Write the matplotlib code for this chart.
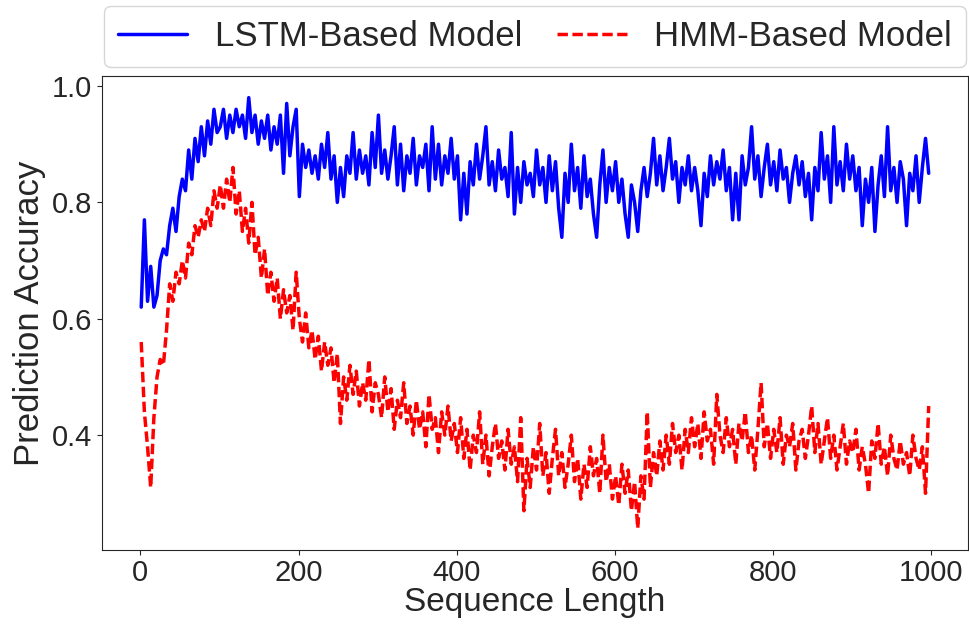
import numpy as np
import matplotlib
matplotlib.use("Agg")
import matplotlib.pyplot as plt
import seaborn as sns

seq_len = np.arange(1, 1000, 4)

lstm_acc = [
    0.62, 0.77, 0.63, 0.69, 0.62, 0.64, 0.70, 0.72, 0.71, 0.76, 0.79, 0.75, 0.81, 0.84, 0.82, 0.89, 0.84, 0.91, 0.87, 0.93, 0.88, 0.94, 0.90, 0.96, 0.92,
    0.93, 0.96, 0.91, 0.95, 0.92, 0.96, 0.93, 0.95, 0.91, 0.98, 0.92, 0.95, 0.90, 0.94, 0.91, 0.95, 0.89, 0.93, 0.90, 0.95, 0.85, 0.97, 0.88, 0.93, 0.96,
    0.81, 0.90, 0.86, 0.89, 0.85, 0.88, 0.84, 0.90, 0.86, 0.92, 0.84, 0.88, 0.80, 0.86, 0.81, 0.88, 0.85, 0.92, 0.84, 0.89, 0.85, 0.88, 0.83, 0.92, 0.86,
    0.95, 0.85, 0.89, 0.84, 0.88, 0.93, 0.83, 0.90, 0.82, 0.88, 0.85, 0.91, 0.83, 0.88, 0.86, 0.90, 0.82, 0.93, 0.84, 0.90, 0.83, 0.88, 0.85, 0.91, 0.84,
    0.88, 0.77, 0.85, 0.78, 0.87, 0.83, 0.90, 0.84, 0.88, 0.93, 0.83, 0.87, 0.82, 0.89, 0.84, 0.86, 0.81, 0.92, 0.78, 0.86, 0.80, 0.87, 0.83, 0.85, 0.81,
    0.89, 0.83, 0.86, 0.80, 0.88, 0.82, 0.87, 0.79, 0.74, 0.85, 0.80, 0.90, 0.82, 0.86, 0.79, 0.88, 0.81, 0.84, 0.78, 0.74, 0.83, 0.89, 0.80, 0.86, 0.82,
    0.87, 0.80, 0.84, 0.78, 0.74, 0.83, 0.80, 0.75, 0.82, 0.86, 0.81, 0.85, 0.91, 0.83, 0.88, 0.82, 0.86, 0.91, 0.84, 0.87, 0.80, 0.86, 0.83, 0.88, 0.82,
    0.86, 0.82, 0.76, 0.85, 0.81, 0.88, 0.83, 0.87, 0.84, 0.89, 0.82, 0.86, 0.77, 0.85, 0.77, 0.88, 0.83, 0.86, 0.93, 0.84, 0.88, 0.81, 0.86, 0.90, 0.83,
    0.87, 0.82, 0.89, 0.84, 0.86, 0.80, 0.85, 0.88, 0.83, 0.87, 0.81, 0.85, 0.77, 0.86, 0.82, 0.92, 0.84, 0.88, 0.80, 0.93, 0.83, 0.87, 0.82, 0.90, 0.84,
    0.88, 0.82, 0.86, 0.76, 0.84, 0.80, 0.86, 0.75, 0.83, 0.88, 0.81, 0.93, 0.82, 0.86, 0.80, 0.87, 0.84, 0.76, 0.85, 0.82, 0.88, 0.80, 0.86, 0.91, 0.85,
]

hmm_acc = [
    0.56, 0.44, 0.38, 0.31, 0.43, 0.50, 0.53, 0.52, 0.58, 0.66, 0.63, 0.68, 0.66, 0.70, 0.67, 0.73, 0.71, 0.76, 0.74, 0.77, 0.75, 0.79, 0.76, 0.82, 0.79,
    0.83, 0.79, 0.84, 0.80, 0.86, 0.78, 0.82, 0.75, 0.79, 0.73, 0.80, 0.71, 0.74, 0.67, 0.72, 0.64, 0.68, 0.63, 0.67, 0.60, 0.65, 0.61, 0.64, 0.58, 0.68,
    0.60, 0.56, 0.61, 0.55, 0.58, 0.53, 0.57, 0.51, 0.56, 0.52, 0.55, 0.49, 0.54, 0.42, 0.50, 0.46, 0.52, 0.47, 0.51, 0.45, 0.49, 0.46, 0.53, 0.44, 0.49,
    0.47, 0.43, 0.50, 0.44, 0.48, 0.41, 0.46, 0.43, 0.49, 0.42, 0.45, 0.40, 0.46, 0.41, 0.44, 0.38, 0.47, 0.41, 0.43, 0.37, 0.44, 0.40, 0.45, 0.39, 0.42,
    0.37, 0.43, 0.36, 0.41, 0.34, 0.40, 0.37, 0.44, 0.35, 0.40, 0.33, 0.38, 0.42, 0.36, 0.39, 0.34, 0.41, 0.35, 0.38, 0.32, 0.43, 0.27, 0.36, 0.31, 0.38,
    0.34, 0.42, 0.33, 0.37, 0.30, 0.36, 0.41, 0.33, 0.37, 0.31, 0.35, 0.40, 0.32, 0.36, 0.29, 0.35, 0.31, 0.38, 0.33, 0.36, 0.30, 0.40, 0.32, 0.35, 0.29,
    0.33, 0.28, 0.35, 0.30, 0.34, 0.27, 0.32, 0.24, 0.33, 0.29, 0.44, 0.31, 0.37, 0.33, 0.39, 0.34, 0.40, 0.35, 0.42, 0.37, 0.40, 0.34, 0.41, 0.37, 0.43,
    0.38, 0.42, 0.36, 0.44, 0.39, 0.41, 0.35, 0.47, 0.40, 0.37, 0.43, 0.38, 0.41, 0.35, 0.42, 0.39, 0.44, 0.37, 0.40, 0.34, 0.41, 0.49, 0.38, 0.42, 0.36,
    0.41, 0.37, 0.43, 0.35, 0.40, 0.38, 0.42, 0.34, 0.39, 0.41, 0.36, 0.40, 0.45, 0.37, 0.42, 0.35, 0.39, 0.43, 0.36, 0.40, 0.34, 0.38, 0.42, 0.35, 0.39,
    0.37, 0.41, 0.34, 0.38, 0.35, 0.30, 0.39, 0.36, 0.42, 0.35, 0.38, 0.33, 0.40, 0.36, 0.34, 0.39, 0.35, 0.37, 0.33, 0.40, 0.36, 0.34, 0.38, 0.30, 0.45,
]

sns.set_style("ticks")
plt.rcParams['font.family'] = ['Liberation Sans', 'DejaVu Sans']

fig = plt.figure(figsize=(9.7, 6.24), dpi=100)
ax = fig.add_axes([0.105, 0.119, 0.893, 0.759])

ax.plot(seq_len, lstm_acc, color='blue', linestyle='-', linewidth=2.5, label='LSTM-Based Model')
ax.plot(seq_len, hmm_acc, color='red', linestyle=(0, (3.0, 1.3)), linewidth=2.5, label='HMM-Based Model')

ax.set_xlabel('Sequence Length', fontsize=24, labelpad=0)
ax.set_ylabel('Prediction Accuracy', fontsize=25)
ax.tick_params(axis='both', labelsize=21)
ax.set_xticks([0, 200, 400, 600, 800, 1000])
ax.set_yticks([0.4, 0.6, 0.8, 1.0])

ax.legend(loc='lower center', bbox_to_anchor=(0.5, 1.02), ncol=2, fontsize=25,
          columnspacing=1.0, borderaxespad=0)

fig.savefig('out.png', dpi=100)
